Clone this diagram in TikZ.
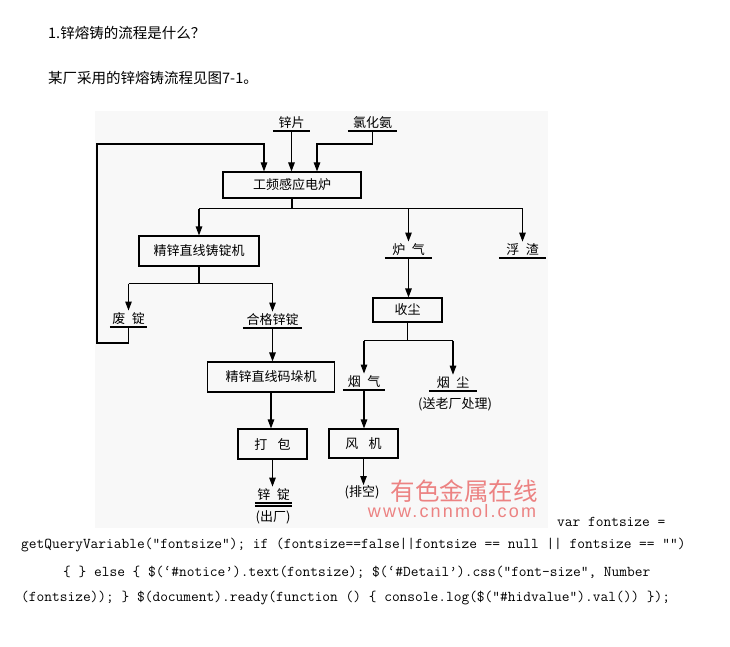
\documentclass[tikz,border=0pt]{standalone}
\usepackage{fontspec}
\usepackage{tikz}
\usetikzlibrary{arrows.meta,calc}
\newfontfamily\cjk{Noto Sans CJK SC}
\newfontfamily\wmlatin[LetterSpace=12]{Liberation Sans}
\definecolor{figbg}{RGB}{248,248,248}
\definecolor{wmred}{RGB}{236,130,130}

\begin{document}
\begin{tikzpicture}[x=1pt,y=-1pt,
  every node/.style={font=\cjk\fontsize{13}{15}\selectfont},
  box/.style={draw,line width=1.1pt,inner sep=0pt},
  matl/.style={anchor=south,inner xsep=0pt,inner ysep=2pt,
    append after command={(\tikzlastnode.south west) edge[line width=1.1pt] (\tikzlastnode.south east)}},
  arr/.style={line width=1.1pt,-{Triangle[length=9pt,width=6.5pt]}},
  link/.style={line width=1.1pt},
  plain/.style={inner sep=0pt},
  head/.style={plain,anchor=west,font=\cjk\fontsize{14.5}{17}\selectfont},
  code/.style={plain,anchor=west,font=\ttfamily\fontsize{15}{18}\selectfont},
  wmark/.style={plain,text=wmred}]
\fill[white] (0,0) rectangle (730,647);
\useasboundingbox (0,0) rectangle (730,647);
\fill[figbg] (95,111) rectangle (548,528);

\node[head] (q1) at (48,33) {1.锌熔铸的流程是什么？};
\node[head] (q2) at (48,78) {某厂采用的锌熔铸流程见图7-1。};

\node[matl,minimum width=37pt] (zp)  at (291.5,131) {锌片};
\node[matl,minimum width=49pt] (lha) at (372.5,131) {氯化氨};
\node[box,minimum width=138pt,minimum height=26pt] (furn) at (292,185) {工频感应电炉};
\node[box,minimum width=120pt,minimum height=30pt] (cast) at (199,251) {精锌直线铸锭机};
\node[matl,minimum width=47pt] (lq)  at (408.5,258) {炉\enspace 气};
\node[matl,minimum width=47pt] (fz)  at (522.5,258) {浮\enspace 渣};
\node[matl,minimum width=37pt] (fd)  at (128.5,327) {废\enspace 锭};
\node[matl,minimum width=59pt] (hg)  at (272.5,328) {合格锌锭};
\node[box,minimum width=69pt,minimum height=24pt] (sc) at (407.5,310) {收尘};
\node[box,minimum width=127pt,minimum height=30pt] (stack) at (271,377) {精锌直线码垛机};
\node[matl,minimum width=42pt] (yq)  at (364,390) {烟\enspace 气};
\node[matl,minimum width=48pt] (yc)  at (453,391) {烟\enspace 尘};
\node[plain] (yc2) at (455,404) {(送老厂处理)};
\node[box,minimum width=69pt,minimum height=30pt] (pack) at (272.5,444) {打\hspace{.8em}包};
\node[box,minimum width=69pt,minimum height=29pt] (fj) at (363.5,443.5) {风\hspace{.8em}机};
\node[matl,minimum width=37pt] (zd)  at (273.5,503) {锌\enspace 锭};
\node[plain] (cc) at (273,517) {(出厂)};
\node[plain] (pk) at (362,492) {(排空)};

\coordinate (fb) at (97,144);
\draw[arr] (zp.south) -- (zp.south |- furn.north);
\draw[arr] (lha.south) -- ++(0,13) -| ([xshift=25pt]furn.north);
\draw[arr] (fd.south) -- ++(0,16) -| (fb) -| ([xshift=-28pt]furn.north);

\draw[link] (furn.south) -- ++(0,10) coordinate (j1);
\draw[link] (cast.north |- j1) -- (fz.north |- j1);
\draw[arr] (cast.north |- j1) -- (cast.north);
\draw[arr] (lq.north |- j1) -- (lq.north);
\draw[arr] (fz.north |- j1) -- (fz.north);

\draw[link] (cast.south) -- ++(0,17) coordinate (j2);
\draw[link] (fd.north |- j2) -- (hg.north |- j2);
\draw[arr] (fd.north |- j2) -- (fd.north);
\draw[arr] (hg.north |- j2) -- (hg.north);
\draw[arr] (hg.south) -- (hg.south |- stack.north);
\draw[arr] (stack.south) -- (stack.south |- pack.north);
\draw[arr] (pack.south) -- (pack.south |- zd.north);
\draw[link] ([yshift=-3pt]zd.south west) -- ([yshift=-3pt]zd.south east);

\draw[arr] (lq.south) -- (lq.south |- sc.north);
\draw[link] (sc.south) -- ++(0,18) coordinate (j3);
\draw[link] (yq.north |- j3) -- (yc.north |- j3);
\draw[arr] (yq.north |- j3) -- (yq.north);
\draw[arr] (yc.north |- j3) -- (yc.north);
\draw[arr] (yq.south) -- (yq.south |- fj.north);
\draw[arr] (fj.south) -- (fj.south |- pk.north);

\node[wmark,font=\cjk\fontsize{24.5}{26}\selectfont] (wm1) at (464,491) {有色金属在线};
\node[wmark,font=\wmlatin\fontsize{18}{20}\selectfont] (wm2) at (452,511) {www.cnnmol.com};

\node[code] (js1) at (557,522) {var fontsize =};
\node[code] (js2) at (21,545) {getQueryVariable(“fontsize”); if (fontsize==false||fontsize == null || fontsize == “”)};
\node[code] (js3) at (63,572) {\{ \} else \{ \$(‘\#notice’).text(fontsize); \$(‘\#Detail’).css(“font-size”, Number};
\node[code] (js4) at (21,598) {(fontsize)); \} \$(document).ready(function () \{ console.log(\$(“\#hidvalue”).val()) \});};
\end{tikzpicture}
\end{document}
